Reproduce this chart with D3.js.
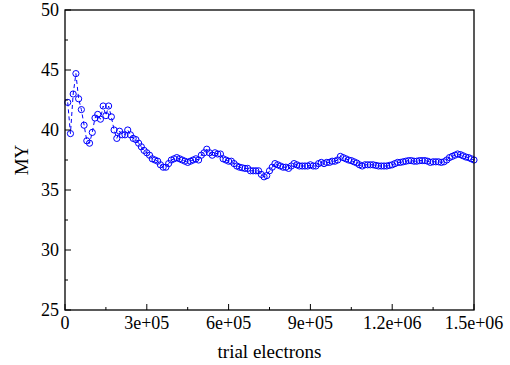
<!DOCTYPE html>
<html><head><meta charset="utf-8">
<script src="https://cdn.jsdelivr.net/npm/d3@7"></script>
<style>body{margin:0;background:#fff}svg{display:block}text{font-family:"Liberation Serif","Times New Roman",serif}</style>
</head><body><svg id="c" width="510" height="365"></svg>
<script>
const trialStep = 10000;
const myValues = [
42.3,39.7,43.0,44.7,42.6,41.7,40.4,39.1,38.9,39.8,
41.0,41.3,40.9,42.0,41.2,42.0,41.1,40.0,39.3,39.9,
39.6,39.6,40.0,39.6,39.3,39.2,38.9,38.6,38.3,38.1,
37.9,37.6,37.5,37.4,37.1,36.9,36.9,37.2,37.5,37.6,
37.7,37.6,37.5,37.4,37.3,37.4,37.5,37.6,37.5,37.9,
38.1,38.4,38.1,37.9,38.1,38.0,38.0,37.6,37.5,37.4,
37.4,37.2,37.0,36.9,36.85,36.8,36.8,36.6,36.6,36.6,
36.6,36.3,36.1,36.2,36.6,36.9,37.2,37.1,37.0,36.9,
36.9,36.8,37.0,37.2,37.1,37.0,37.0,37.0,37.0,37.1,
37.0,37.0,37.2,37.3,37.2,37.3,37.3,37.4,37.4,37.5,
37.8,37.7,37.6,37.5,37.45,37.35,37.25,37.1,37.0,37.1,
37.1,37.1,37.1,37.05,37.0,37.0,37.0,37.0,37.05,37.1,
37.2,37.3,37.3,37.35,37.4,37.45,37.45,37.4,37.4,37.45,
37.45,37.45,37.4,37.3,37.35,37.35,37.35,37.3,37.35,37.5,
37.7,37.8,37.9,38.0,37.95,37.85,37.75,37.7,37.6,37.5
];
const xTicks = [0,300000,600000,900000,1200000,1500000];
const xTickLabels = ["0","3e+05","6e+05","9e+05","1.2e+06","1.5e+06"];
const xMinor = [150000,450000,750000,1050000,1350000];
const yTicks = [25,30,35,40,45,50];
const yMinor = [27.5,32.5,37.5,42.5,47.5];
const xLabel = "trial electrons";
const yLabel = "MY";

const data = myValues.map((v,i)=>({x:(i+1)*trialStep, y:v}));
const L=65,R=474,T=10,B=310;
const x = d3.scaleLinear().domain([0,1500000]).range([L,R]);
const y = d3.scaleLinear().domain([25,50]).range([B,T]);
const svg = d3.select("#c");
const blue="#0000ff";

svg.append("path").datum(data)
  .attr("fill","none").attr("stroke",blue).attr("stroke-width",1)
  .attr("stroke-dasharray","4,3")
  .attr("d",d3.line().x(d=>x(d.x)).y(d=>y(d.y)));
svg.selectAll("circle.p").data(data).enter().append("circle")
  .attr("cx",d=>x(d.x)).attr("cy",d=>y(d.y)).attr("r",3.1)
  .attr("fill","none").attr("stroke",blue).attr("stroke-width",1);

// frame
svg.append("rect").attr("x",L).attr("y",T).attr("width",R-L).attr("height",B-T)
  .attr("fill","none").attr("stroke","#000").attr("stroke-width",1.3);

const g = svg.append("g").attr("stroke","#000").attr("stroke-width",1);
xTicks.forEach(t=>g.append("line").attr("x1",x(t)).attr("x2",x(t)).attr("y1",B).attr("y2",B-6));
xMinor.forEach(t=>g.append("line").attr("x1",x(t)).attr("x2",x(t)).attr("y1",B).attr("y2",B-3));
yTicks.forEach(t=>g.append("line").attr("x1",L).attr("x2",L+6).attr("y1",y(t)).attr("y2",y(t)));
yMinor.forEach(t=>g.append("line").attr("x1",L).attr("x2",L+3).attr("y1",y(t)).attr("y2",y(t)));

svg.selectAll("text.xt").data(xTicks).enter().append("text")
  .attr("x",d=>x(d)).attr("y",B+19).attr("text-anchor","middle")
  .attr("font-size",18).text((d,i)=>xTickLabels[i]);
svg.selectAll("text.yt").data(yTicks).enter().append("text")
  .attr("x",L-6).attr("y",d=>y(d)+6).attr("text-anchor","end")
  .attr("font-size",18).text(d=>d);
svg.append("text").attr("x",(L+R)/2).attr("y",358).attr("text-anchor","middle")
  .attr("font-size",19).text(xLabel);
svg.append("text").attr("transform","translate(28,160) rotate(-90)").attr("text-anchor","middle")
  .attr("font-size",19).text(yLabel);
</script></body></html>
